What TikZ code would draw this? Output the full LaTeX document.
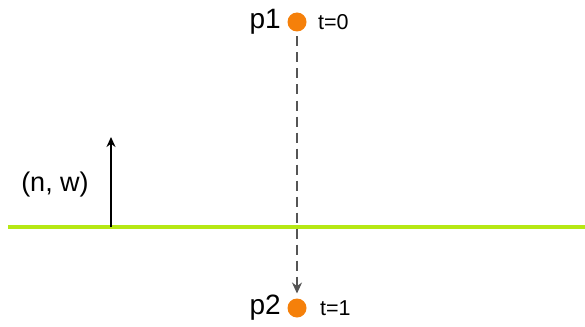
\documentclass[tikz,border=0pt]{standalone}
\usepackage{fontspec}
\setmainfont{Liberation Sans}
\usetikzlibrary{arrows.meta}
\definecolor{dotorange}{RGB}{245,128,10}
\definecolor{planegreen}{RGB}{182,232,20}
\definecolor{rayg}{RGB}{85,85,85}
\begin{document}
\begin{tikzpicture}[x=1pt, y=-1pt, font=\fontsize{27}{30}\selectfont,
  ptdot/.style={circle, fill=dotorange, inner sep=0pt, minimum size=19pt, outer sep=5pt},
  plabel/.style={anchor=east, inner sep=0pt, font=\fontsize{28}{31}\selectfont},
  tlabel/.style={anchor=west, inner sep=0pt, font=\fontsize{21.5}{24}\selectfont}]
  \useasboundingbox (0,0) rectangle (585,326);
  % plane
  \coordinate (plane w) at (8,227);
  \coordinate (plane e) at (585,227);
  \draw[line width=4pt, planegreen] (plane w) -- (plane e);
  % normal
  \coordinate (nbase) at (111,227);
  \coordinate (ntip) at (111,137);
  \draw[line width=1.5pt, -{Stealth[length=10pt, width=9pt]}] (nbase) -- (ntip);
  \node (nw) at (55,185) {(n, w)};
  % segment end points
  \node[ptdot] (p1) at (297,22) {};
  \node[ptdot] (p2) at (297,308) {};
  \node[plabel] (p1lab) at (281,22) {p1};
  \node[plabel] (p2lab) at (281,308) {p2};
  \node[tlabel] (t0) at (318,22) {t=0};
  \node[tlabel] (t1) at (320,308) {t=1};
  \draw[rayg, line width=1.3pt, dash pattern=on 10pt off 6pt,
    -{Stealth[length=11pt, width=10pt]}] (p1) -- (p2);
\end{tikzpicture}
\end{document}
